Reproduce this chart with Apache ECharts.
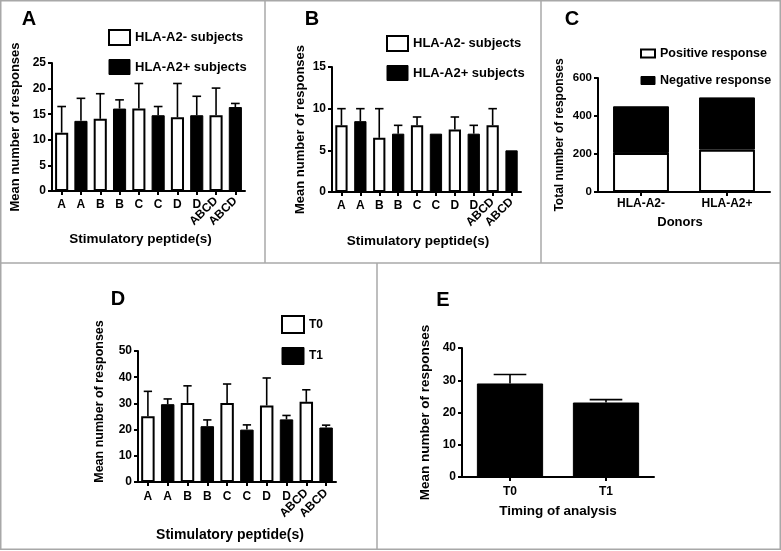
<!DOCTYPE html>
<html><head><meta charset="utf-8">
<script src="https://cdn.jsdelivr.net/npm/echarts@6/dist/echarts.min.js"></script>
<style>html,body{margin:0;padding:0;background:#fff}#c{width:781px;height:551px}</style>
</head><body><div id="c"></div>
<script>
// ---------- data ----------
const peptideCats = ['A','A','B','B','C','C','D','D','ABCD','ABCD'];
// Panel A
const a_negMean = [11.4, 14.1, 16.1, 14.4, 14.8];
const a_negErr  = [16.5, 19.0, 21.0, 21.0, 20.1];
const a_posMean = [13.7, 16.1, 14.8, 14.8, 16.4];
const a_posErr  = [18.1, 17.8, 16.5, 18.5, 17.1];
const a_ticks = {max: 25, interval: 5};
// Panel B
const b_negMean = [8.0, 6.5, 8.0, 7.5, 8.0];
const b_negErr  = [10, 10, 9, 9, 10];
const b_posMean = [8.5, 7.0, 7.0, 7.0, 5.0];
const b_posErr  = [10, 8, null, 8, null];
const b_ticks = {max: 15, interval: 5};
// Panel C
const donors = ['HLA-A2-', 'HLA-A2+'];
const c_positive = [205, 223];
const c_negative = [246, 275];
const c_ticks = {max: 600, interval: 200};
// Panel D
const d_t0Mean = [25.1, 30.2, 30.2, 29.2, 30.6];
const d_t0Err  = [34.6, 36.7, 37.4, 39.7, 35.2];
const d_t1Mean = [29.7, 21.3, 20.0, 23.9, 20.8];
const d_t1Err  = [31.7, 23.7, 21.8, 25.4, 21.7];
const d_ticks = {max: 50, interval: 10};
// Panel E
const timing = ['T0', 'T1'];
const e_mean = [29.0, 23.1];
const e_err  = [31.8, 24.0];
const e_ticks = {max: 40, interval: 10};

// ---------- helpers ----------
const FONT = '"Liberation Sans", Arial, sans-serif';
const WHITE = {color:'#fff', borderColor:'#000', borderWidth:2};
const BLACK = {color:'#000', borderColor:'#000', borderWidth:1};
function evens(a){ const o=[]; a.forEach(v=>o.push(v,null)); return o; }
function odds(a){ const o=[]; a.forEach(v=>o.push(null,v)); return o; }
function errPairs(m1,e1,m2,e2){
  const o=[];
  for(let i=0;i<m1.length;i++){
    if(e1[i]!=null) o.push([2*i, m1[i], e1[i]]);
    if(e2[i]!=null) o.push([2*i+1, m2[i], e2[i]]);
  }
  return o;
}
function errSimple(m,e){ return m.map((v,i)=>[i,v,e[i]]); }
function errRender(capFrac){
  return function(params, api){
    const idx=api.value(0), m=api.value(1), e=api.value(2);
    const p0=api.coord([idx,m]), p1=api.coord([idx,e]);
    const half=api.size([1,0])[0]*capFrac/2;
    const st={stroke:'#000', lineWidth:1.6};
    return {type:'group', children:[
      {type:'line', shape:{x1:p0[0],y1:p0[1],x2:p1[0],y2:p1[1]}, style:st},
      {type:'line', shape:{x1:p1[0]-half,y1:p1[1],x2:p1[0]+half,y2:p1[1]}, style:st}
    ]};
  };
}
function yAx(grid, t, name, gap, pad, fs, lfs){
  return {type:'value', gridIndex:grid, min:0, max:t.max, interval:t.interval,
    name:name, nameLocation:'middle', nameGap:gap, nameRotate:90,
    nameTextStyle:{fontFamily:FONT, fontWeight:'bold', fontSize:fs, color:'#000', padding:pad},
    axisLine:{show:true, lineStyle:{color:'#000', width:2}},
    axisTick:{show:true, length:4, lineStyle:{color:'#000', width:2}},
    axisLabel:{fontFamily:FONT, fontWeight:'bold', fontSize:lfs||12, color:'#000', margin:6},
    splitLine:{show:false}};
}
function xAx(grid, cats, name, gap, pad, fs, hideAbcd, margin){
  return {type:'category', gridIndex:grid, data:cats, position:'bottom',
    name:name, nameLocation:'middle', nameGap:gap,
    nameTextStyle:{fontFamily:FONT, fontWeight:'bold', fontSize:fs, color:'#000', padding:pad},
    axisLine:{show:true, lineStyle:{color:'#000', width:2}},
    axisTick:{show:true, alignWithLabel:true, length:4, lineStyle:{color:'#000', width:2}},
    axisLabel:{interval:0, fontFamily:FONT, fontWeight:'bold', fontSize:12, color:'#000', margin:margin,
      formatter: hideAbcd ? (v => v==='ABCD' ? '' : v) : (v => v)},
    splitLine:{show:false}};
}
function xAbcd(grid, cats, margin){
  return {type:'category', gridIndex:grid, data:cats, position:'bottom',
    axisLine:{show:false}, axisTick:{show:false}, splitLine:{show:false},
    axisLabel:{interval:0, rotate:45, fontFamily:FONT, fontWeight:'bold', fontSize:12, color:'#000', margin:margin,
      formatter: v => v==='ABCD' ? v : ''}};
}
function legend(names, styles, left, top, w, h, gap, fs){
  return {orient:'vertical', left:left, top:top, padding:0, itemGap:gap, itemWidth:w, itemHeight:h,
    icon:'rect', selectedMode:false,
    textStyle:{fontFamily:FONT, fontWeight:'bold', fontSize:fs, color:'#000', lineHeight:15},
    data:names.map((n,i)=>({name:n, icon:'rect', itemStyle:styles[i]}))};
}
function letter(t,x,y){
  return {type:'text', x:x, y:y, silent:true,
    style:{text:t, fontFamily:FONT, fontWeight:'bold', fontSize:20, fill:'#000', align:'center', verticalAlign:'middle'}};
}
function line(x1,y1,x2,y2){
  return {type:'line', silent:true, shape:{x1,y1,x2,y2}, style:{stroke:'#a8a8a8', lineWidth:1.5}};
}

const NEG='HLA-A2- subjects', POS='HLA-A2+ subjects';
const option = {
  animation:false,
  backgroundColor:'#fff',
  grid:[
    {left:52, top:63, width:193, height:128},
    {left:332, top:67, width:189, height:125},
    {left:598, top:78, width:172, height:114},
    {left:138, top:351, width:198, height:131},
    {left:462, top:348, width:192, height:129}
  ],
  xAxis:[
    xAx(0, peptideCats, 'Stimulatory peptide(s)', 41, [0,16,0,0], 13.5, true, 8),
    xAbcd(0, peptideCats, 8),
    xAx(1, peptideCats, 'Stimulatory peptide(s)', 42, [0,17,0,0], 13.5, true, 8),
    xAbcd(1, peptideCats, 8),
    xAx(2, donors, 'Donors', 24, [0,8,0,0], 13, false, 6),
    xAx(3, peptideCats, 'Stimulatory peptide(s)', 46, [0,14,0,0], 14, true, 9),
    xAbcd(3, peptideCats, 9),
    xAx(4, timing, 'Timing of analysis', 27, 0, 13.5, false, 9)
  ],
  yAxis:[
    yAx(0, a_ticks, 'Mean number of responses', 30, 0, 13),
    yAx(1, b_ticks, 'Mean number of responses', 25, 0, 13),
    yAx(2, c_ticks, 'Total number of responses', 32, 0, 12, 11.5),
    yAx(3, d_ticks, 'Mean number of responses', 32, [0,0,0,30], 12.5),
    yAx(4, e_ticks, 'Mean number of responses', 30, 0, 13.5)
  ],
  legend:[
    legend([NEG,POS],[WHITE,BLACK],108,29,21,15,13,13),
    legend([NEG,POS],[WHITE,BLACK],386,35,21,15,13,13),
    legend(['Positive response','Negative response'],[WHITE,BLACK],640,46,14,8,12,12.5),
    legend(['T0','T1'],[WHITE,BLACK],281,315,22,17,13,12)
  ],
  series:[
    // A
    {type:'bar', name:NEG, xAxisIndex:0, yAxisIndex:0, data:evens(a_negMean), barWidth:'68%', barGap:'-100%', itemStyle:WHITE},
    {type:'bar', name:POS, xAxisIndex:0, yAxisIndex:0, data:odds(a_posMean), barWidth:'68%', barGap:'-100%', itemStyle:BLACK},
    {type:'custom', name:'errA', xAxisIndex:0, yAxisIndex:0, data:errPairs(a_negMean,a_negErr,a_posMean,a_posErr), encode:{x:0,y:[1,2]}, renderItem:errRender(0.45), z:5},
    // B
    {type:'bar', name:NEG, xAxisIndex:2, yAxisIndex:1, data:evens(b_negMean), barWidth:'65%', barGap:'-100%', itemStyle:WHITE},
    {type:'bar', name:POS, xAxisIndex:2, yAxisIndex:1, data:odds(b_posMean), barWidth:'65%', barGap:'-100%', itemStyle:BLACK},
    {type:'custom', name:'errB', xAxisIndex:2, yAxisIndex:1, data:errPairs(b_negMean,b_negErr,b_posMean,b_posErr), encode:{x:0,y:[1,2]}, renderItem:errRender(0.45), z:5},
    // C
    {type:'bar', name:'Positive response', xAxisIndex:4, yAxisIndex:2, stack:'c', data:c_positive, barWidth:'65%', itemStyle:WHITE},
    {type:'bar', name:'Negative response', xAxisIndex:4, yAxisIndex:2, stack:'c', data:c_negative, barWidth:'65%', itemStyle:BLACK},
    // D
    {type:'bar', name:'T0', xAxisIndex:5, yAxisIndex:3, data:evens(d_t0Mean), barWidth:'68%', barGap:'-100%', itemStyle:WHITE},
    {type:'bar', name:'T1', xAxisIndex:5, yAxisIndex:3, data:odds(d_t1Mean), barWidth:'68%', barGap:'-100%', itemStyle:BLACK},
    {type:'custom', name:'errD', xAxisIndex:5, yAxisIndex:3, data:errPairs(d_t0Mean,d_t0Err,d_t1Mean,d_t1Err), encode:{x:0,y:[1,2]}, renderItem:errRender(0.42), z:5},
    // E
    {type:'bar', name:'E', xAxisIndex:7, yAxisIndex:4, data:e_mean, barWidth:'69%', itemStyle:BLACK},
    {type:'custom', name:'errE', xAxisIndex:7, yAxisIndex:4, data:errSimple(e_mean,e_err), encode:{x:0,y:[1,2]}, renderItem:errRender(0.34), z:5}
  ],
  graphic:[
    {type:'rect', silent:true, shape:{x:0.75,y:0.75,width:779.5,height:548.5}, style:{fill:null, stroke:'#a8a8a8', lineWidth:1.5}},
    line(0,263,781,263),
    line(265,0,265,263),
    line(541,0,541,263),
    line(377,263,377,549),
    letter('A',29,19), letter('B',312,19), letter('C',572,19),
    letter('D',118,299), letter('E',443,300)
  ]
};
const chart = echarts.init(document.getElementById('c'), null, {renderer:'canvas'});
chart.setOption(option);
</script>
</body></html>
